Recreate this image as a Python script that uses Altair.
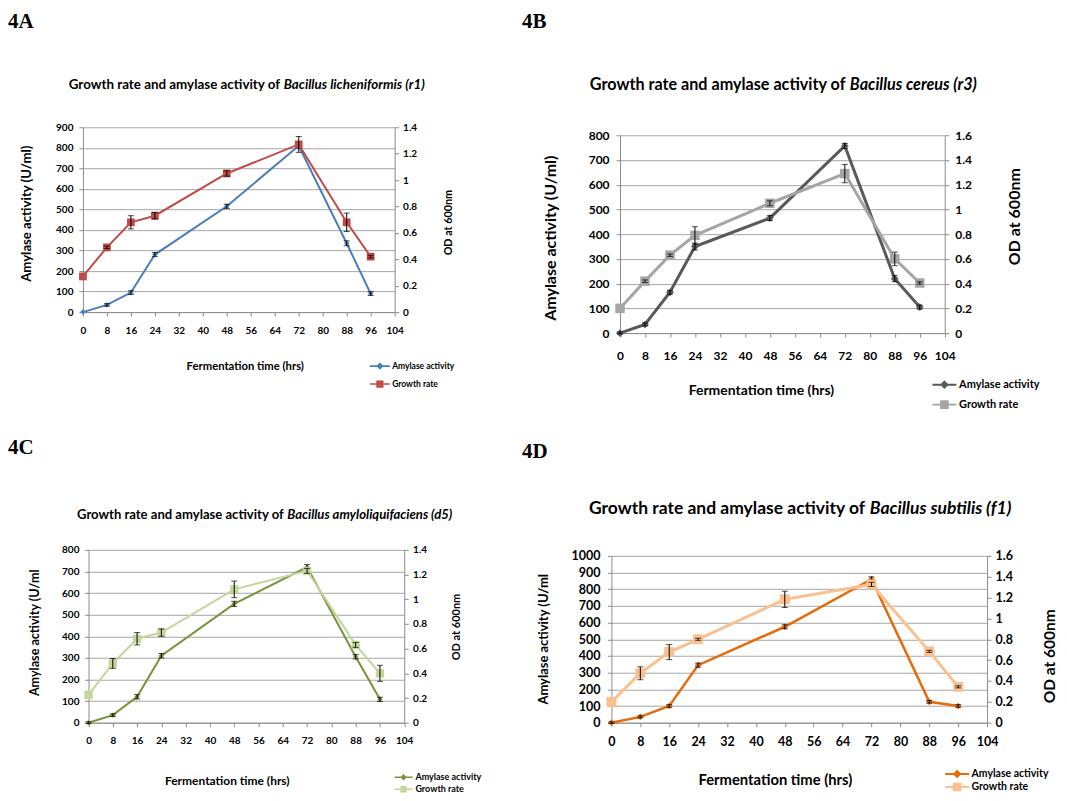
import altair as alt
import pandas as pd

# ---------------- data ----------------
time_hrs = [0, 8, 16, 24, 48, 72, 88, 96]
x_ticks = [0, 8, 16, 24, 32, 40, 48, 56, 64, 72, 80, 88, 96, 104]

amy_A = [0, 35, 95, 280, 515, 810, 335, 90]
amy_err_A = [0, 6, 9, 10, 10, 12, 12, 9]
od_A = [0.27, 0.49, 0.68, 0.73, 1.05, 1.27, 0.68, 0.42]
od_err_A = [0.0, 0.01, 0.05, 0.025, 0.02, 0.06, 0.07, 0.01]

amy_B = [0, 35, 165, 350, 465, 757, 220, 105]
amy_err_B = [4, 6, 8, 14, 10, 10, 12, 8]
od_B = [0.2, 0.42, 0.63, 0.79, 1.05, 1.29, 0.6, 0.405]
od_err_B = [0.0, 0.01, 0.01, 0.07, 0.02, 0.074, 0.055, 0.01]

amy_C = [0, 35, 120, 310, 550, 720, 305, 108]
amy_err_C = [4, 6, 10, 10, 12, 12, 10, 10]
od_C = [0.225, 0.48, 0.68, 0.73, 1.08, 1.23, 0.63, 0.40]
od_err_C = [0.0, 0.04, 0.05, 0.03, 0.067, 0.02, 0.02, 0.065]

amy_D = [0, 35, 100, 345, 575, 860, 125, 100]
amy_err_D = [5, 6, 8, 12, 12, 14, 8, 8]
od_D = [0.2, 0.474, 0.677, 0.80, 1.183, 1.326, 0.684, 0.344]
od_err_D = [0.0, 0.062, 0.072, 0.01, 0.078, 0.02, 0.01, 0.01]

series_names = ["Amylase activity", "Growth rate"]

# legend symbols: a line with a diamond / square in the middle
PATH_DIAMOND = "M-2.5,-0.2H2.5V0.2H-2.5Z M0,-0.9L0.9,0L0,0.9L-0.9,0Z"
PATH_SQUARE = "M-2.5,-0.2H2.5V0.2H-2.5Z M-0.9,-0.9H0.9V0.9H-0.9Z"

FONT = "Lato"
AXIS_GRAY = "#8c8c8c"
GRID_GRAY = "#a6a6a6"

# layout (page pixel coordinates) and style of each panel
panels = [
    dict(amy=amy_A, amy_err=amy_err_A, od=od_A, od_err=od_err_A,
         plot=(83, 127, 312, 185), origin=(83, 127), frame=(8, 510, 8, 432),
         label=("4A", 8, 22),
         t1="Growth rate and amylase activity of", t2="Bacillus licheniformis (r1)",
         split=284, ty=85, tfs=13.4,
         ymax=900, odmax=1.4, ytitle="Amylase activity (U/ml)",
         lt=(26.7, 213), rt=(449, 222), xt=(245, 366),
         lab_fs=10, yt_fs=13.2, rt_fs=10.8, xt_fs=11.3, x_pad=14, yl_pad=6, yr_pad=4,
         c1="#4a7ebb", c2="#be4b48", lw1=2, lw2=2, ms1=30, ms2=60,
         leg=(370, 365, 383), leg_r=4.0, leg_fs=8.5),
    dict(amy=amy_B, amy_err=amy_err_B, od=od_B, od_err=od_err_B,
         plot=(620, 135, 325, 198), origin=(611.4, 127), frame=(510, 1059, 8, 432),
         label=("4B", 522, 22),
         t1="Growth rate and amylase activity of", t2="Bacillus cereus (r3)",
         split=850, ty=85, tfs=16.2,
         ymax=800, odmax=1.6, ytitle="Amylase activity (U/ml)",
         lt=(550, 237.5), rt=(1015, 216), xt=(761, 390),
         lab_fs=12, yt_fs=16, rt_fs=16, xt_fs=14, x_pad=18, yl_pad=7, yr_pad=6,
         c1="#595959", c2="#a5a5a5", lw1=3, lw2=3, ms1=60, ms2=90,
         leg=(932, 383, 403), leg_r=4.8, leg_fs=11),
    dict(amy=amy_C, amy_err=amy_err_C, od=od_C, od_err=od_err_C,
         plot=(88.6, 550, 316, 173), origin=(83, 550), frame=(8, 510, 432, 793),
         label=("4C", 8, 448),
         t1="Growth rate and amylase activity of", t2="Bacillus amyloliquifaciens (d5)",
         split=287.5, ty=515, tfs=13.1,
         ymax=800, odmax=1.4, ytitle="Amylase activity (U/ml",
         lt=(35, 632.5), rt=(457, 626.7), xt=(227, 780.7),
         lab_fs=10, yt_fs=12.6, rt_fs=11, xt_fs=12, x_pad=14, yl_pad=5.6, yr_pad=4.4,
         c1="#77933c", c2="#c3d69b", lw1=2, lw2=2, ms1=30, ms2=70,
         leg=(394, 776, 788), leg_r=3.6, leg_fs=9),
    dict(amy=amy_D, amy_err=amy_err_D, od=od_D, od_err=od_err_D,
         plot=(611.4, 556, 376, 167), origin=(611.4, 550), frame=(510, 1059, 432, 793),
         label=("4D", 522, 452),
         t1="Growth rate and amylase activity of", t2="Bacillus subtilis (f1)",
         split=870, ty=509, tfs=17.5,
         ymax=1000, odmax=1.6, ytitle="Amylase activity (U/ml",
         lt=(543, 639), rt=(1049.4, 656), xt=(775, 781),
         lab_fs=12.5, yt_fs=13, rt_fs=15.5, xt_fs=14.8, x_pad=15, yl_pad=7.4, yr_pad=4,
         c1="#e46c0a", c2="#fac090", lw1=2.5, lw2=3, ms1=45, ms2=100,
         leg=(945, 773, 786), leg_r=4.8, leg_fs=10.5),
]


def text_mark(txt, x, y, **kw):
    return alt.Chart(pd.DataFrame({"t": [txt]})).mark_text(**kw).encode(
        text="t:N", x=alt.value(x), y=alt.value(y))


def make_panel(p):
    n = len(time_hrs)
    df = pd.DataFrame({
        "time": time_hrs,
        "amy": p["amy"],
        "amy_lo": [v - e for v, e in zip(p["amy"], p["amy_err"])],
        "amy_hi": [v + e for v, e in zip(p["amy"], p["amy_err"])],
        "od": p["od"],
        "od_lo": [v - e for v, e in zip(p["od"], p["od_err"])],
        "od_hi": [v + e for v, e in zip(p["od"], p["od_err"])],
        "s_amy": [series_names[0]] * n,
        "s_od": [series_names[1]] * n,
    })
    base = alt.Chart(df)

    px, py, W, H = p["plot"]
    ox, oy = p["origin"]
    dx, dy = px - ox, py - oy
    VW, VH = dx + W, dy + H

    x_enc = alt.X("time:Q",
                  scale=alt.Scale(domain=[0, 104], nice=False, zero=False, range=[dx, dx + W]),
                  axis=alt.Axis(values=x_ticks, title="Fermentation time (hrs)", grid=False,
                                tickSize=4, labelPadding=p["x_pad"], labelBaseline="middle",
                                labelFontSize=p["lab_fs"], titleFontSize=p["xt_fs"],
                                titleX=p["xt"][0] - ox, titleY=p["xt"][1] - (py + H),
                                titleBaseline="middle", titleAlign="center",
                                labelFlush=False, labelOverlap=False))

    yl_vals = list(range(0, p["ymax"] + 1, 100))
    nod = int(round(p["odmax"] / 0.2))
    yr_vals = [round(0.2 * i, 1) for i in range(nod + 1)]

    left_axis = alt.Axis(values=yl_vals, format="d", title=p["ytitle"], grid=True,
                         gridColor=GRID_GRAY, gridWidth=1, tickSize=4, offset=-dx,
                         labelPadding=p["yl_pad"], labelFontSize=p["lab_fs"],
                         titleFontSize=p["yt_fs"], titleX=p["lt"][0] - px,
                         titleY=p["lt"][1] - oy, titleBaseline="middle", titleAlign="center",
                         titleAngle=270, labelFlush=False, labelOverlap=False)
    right_axis = alt.Axis(orient="right", values=yr_vals, format="~g", title="OD  at 600nm",
                          grid=False, tickSize=4, labelPadding=p["yr_pad"],
                          labelFontSize=p["lab_fs"], titleFontSize=p["rt_fs"],
                          titleX=p["rt"][0] - (px + W), titleY=p["rt"][1] - oy,
                          titleBaseline="middle", titleAlign="center", titleAngle=270,
                          labelFlush=False, labelOverlap=False)

    def yl(field):
        return alt.Y(f"{field}:Q",
                     scale=alt.Scale(domain=[0, p["ymax"]], nice=False, range=[dy + H, dy]),
                     axis=left_axis)

    def yr(field):
        return alt.Y(f"{field}:Q",
                     scale=alt.Scale(domain=[0, p["odmax"]], nice=False, range=[dy + H, dy]),
                     axis=right_axis)

    r = p["leg_r"]
    sym_size = (2 * r) ** 2
    line_left, row1, row2 = p["leg"]
    common_leg = dict(orient="none", title=None, symbolSize=sym_size, symbolStrokeWidth=0,
                      labelFont=FONT, labelFontSize=p["leg_fs"], labelFontWeight="bold",
                      labelColor="black", labelOffset=1.5 * r + 2, padding=0,
                      labelLimit=400, legendX=line_left + 1.5 * r - ox)
    leg_amy = alt.Legend(symbolType=PATH_DIAMOND, legendY=row1 - 0.8 * r - oy, **common_leg)
    leg_od = alt.Legend(symbolType=PATH_SQUARE, legendY=row2 - 0.8 * r - oy, **common_leg)

    line_amy = base.mark_line(color=p["c1"], strokeWidth=p["lw1"]).encode(x=x_enc, y=yl("amy"))
    pts_amy = base.mark_point(shape="diamond", filled=True, size=p["ms1"], opacity=1).encode(
        x=x_enc, y=yl("amy"),
        color=alt.Color("s_amy:N", scale=alt.Scale(domain=[series_names[0]], range=[p["c1"]]),
                        legend=leg_amy))
    err_amy = base.transform_filter("datum.amy_hi > datum.amy_lo").mark_errorbar(
        color="black", ticks=True, size=6, thickness=1).encode(
        x=x_enc, y=yl("amy_lo"), y2=alt.Y2("amy_hi"))

    line_od = base.mark_line(color=p["c2"], strokeWidth=p["lw2"]).encode(x=x_enc, y=yr("od"))
    pts_od = base.mark_point(shape="square", filled=True, size=p["ms2"], opacity=1).encode(
        x=x_enc, y=yr("od"),
        color=alt.Color("s_od:N", scale=alt.Scale(domain=[series_names[1]], range=[p["c2"]]),
                        legend=leg_od))
    err_od = base.transform_filter("datum.od_hi > datum.od_lo").mark_errorbar(
        color="black", ticks=True, size=6, thickness=1).encode(
        x=x_enc, y=yr("od_lo"), y2=alt.Y2("od_hi"))

    left = alt.layer(line_amy, pts_amy, err_amy)
    right = alt.layer(line_od, pts_od, err_od)

    fx1, fx2, fy1, fy2 = p["frame"]
    frame = alt.Chart(pd.DataFrame({"f": [0]})).mark_rect(opacity=0).encode(
        x=alt.value(fx1 - ox), x2=alt.value(fx2 - ox),
        y=alt.value(fy1 - oy), y2=alt.value(fy2 - oy))

    lab, lx, ly = p["label"]
    panel_label = text_mark(lab, lx - ox, ly - oy, align="left", baseline="middle",
                            font="Liberation Serif", fontSize=21, fontWeight="bold",
                            color="black")
    title1 = text_mark(p["t1"], p["split"] - ox - p["tfs"] * 0.27, p["ty"] - oy,
                       align="right", baseline="middle", font=FONT, fontSize=p["tfs"],
                       fontWeight="bold", color="black")
    title2 = text_mark(p["t2"], p["split"] - ox, p["ty"] - oy, align="left",
                       baseline="middle", font=FONT, fontSize=p["tfs"], fontWeight="bold",
                       fontStyle="italic", color="black")

    return alt.layer(frame, left, right, panel_label, title1, title2).resolve_scale(
        y="independent", color="independent").properties(width=VW, height=VH)


pA, pB, pC, pD = [make_panel(p) for p in panels]

chart = alt.ConcatChart(
    concat=[pA, pB, pC, pD], columns=2, spacing=0, bounds="full"
).resolve_scale(
    color="independent", x="independent", y="independent"
).properties(padding=0, background="white").configure_view(stroke=None).configure_axis(
    labelFont=FONT, titleFont=FONT, labelColor="black", titleColor="black",
    labelFontWeight="bold", titleFontWeight="bold", domainColor=AXIS_GRAY,
    tickColor=AXIS_GRAY, domainWidth=1, tickWidth=1
)

chart.save("out.html", embed_options={"renderer": "svg", "actions": False})
